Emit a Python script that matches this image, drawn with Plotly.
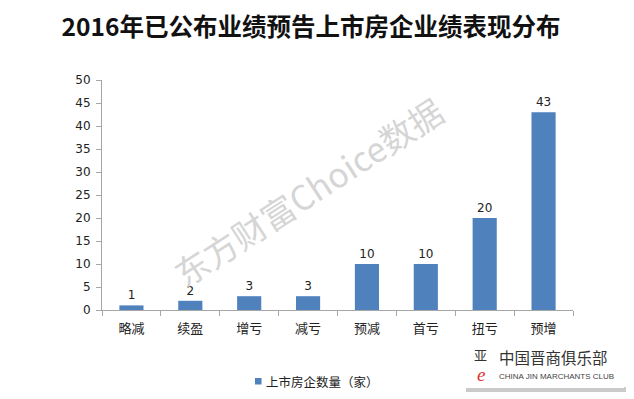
import plotly.graph_objects as go

categories = ["略减", "续盈", "增亏", "减亏", "预减", "首亏", "扭亏", "预增"]
counts = [1, 2, 3, 3, 10, 10, 20, 43]
series_name = "上市房企数量（家）"
title_text = "2016年已公布业绩预告上市房企业绩表现分布"
y_ticks = [0, 5, 10, 15, 20, 25, 30, 35, 40, 45, 50]

W, H = 634, 399
L, R, T, B = 102, 61, 80, 89
pw, ph = W - L - R, H - T - B

def px(x):
    return (x - L) / pw

def py(y):
    return (H - B - y) / ph

font_fam = "DejaVu Sans, Noto Sans CJK SC, sans-serif"
cjk = "Noto Sans CJK SC, sans-serif"

fig = go.Figure()
fig.add_trace(go.Bar(
    x=categories, y=counts, name=series_name,
    marker=dict(color="#4f81bd", line=dict(width=0)),
    width=0.41,
    text=[str(v) for v in counts], textposition="outside",
    textfont=dict(family=font_fam, size=12, color="#222"),
    cliponaxis=False, showlegend=False,
))

fig.update_layout(
    width=W, height=H,
    margin=dict(l=L, r=R, t=T, b=B, autoexpand=False),
    paper_bgcolor="white", plot_bgcolor="white",
    title=dict(text="<b>" + title_text + "</b>", x=311 / W, xanchor="center",
               y=1 - 27 / H, yanchor="middle", yref="container",
               font=dict(family=cjk, size=24.5, color="#111")),
    bargap=0.59,
    xaxis=dict(type="category", showline=True, linecolor="#a6a6a6", linewidth=1,
               ticks="outside", tickson="boundaries", ticklen=5, tickcolor="#a6a6a6",
               ticklabelstandoff=6,
               tickfont=dict(family=cjk, size=13, color="#222"), showgrid=False,
               zeroline=False),
    yaxis=dict(range=[0, 50], tickvals=y_ticks, showline=True, linecolor="#a6a6a6",
               linewidth=1, ticks="outside", ticklen=5, tickcolor="#a6a6a6",
               ticklabelstandoff=3,
               tickfont=dict(family=font_fam, size=12, color="#222"), showgrid=False,
               zeroline=False),
)

# watermark
fig.add_annotation(text="东方财富Choice数据", xref="paper", yref="paper",
                   x=px(308), y=py(191), xanchor="center", yanchor="middle",
                   showarrow=False, textangle=-33,
                   font=dict(family=cjk, size=34, color="rgba(200,200,200,0.75)"))

# legend (manual)
fig.add_shape(type="rect", xref="paper", yref="paper",
              x0=px(255), x1=px(261.5), y0=py(384.5), y1=py(378),
              fillcolor="#4f81bd", line=dict(width=0))
fig.add_annotation(text=series_name, xref="paper", yref="paper",
                   x=px(264), y=py(381), xanchor="left", yanchor="middle",
                   showarrow=False, font=dict(family=cjk, size=12.5, color="#222"))

# logo box at bottom right
fig.add_shape(type="rect", xref="paper", yref="paper",
              x0=px(466), x1=px(626), y0=py(392), y1=py(387),
              fillcolor="rgba(150,150,150,0.5)", line=dict(width=0), layer="below")
fig.add_shape(type="rect", xref="paper", yref="paper",
              x0=px(464), x1=px(624), y0=py(388), y1=py(349),
              fillcolor="white", line=dict(width=0))
fig.add_annotation(text="亚", xref="paper", yref="paper", x=px(480), y=py(354),
                   xanchor="center", yanchor="middle", showarrow=False, borderpad=0,
                   font=dict(family=cjk, size=13, color="#333"))
fig.add_annotation(text="<i>e</i>", xref="paper", yref="paper", x=px(481), y=py(374),
                   xanchor="center", yanchor="middle", showarrow=False, borderpad=0,
                   font=dict(family="Liberation Serif", size=19, color="#e03030"))
fig.add_annotation(text="中国晋商俱乐部", xref="paper", yref="paper", x=px(497), y=py(357),
                   xanchor="left", yanchor="middle", showarrow=False,
                   font=dict(family=cjk, size=15.5, color="#333"))
fig.add_annotation(text="CHINA JIN MARCHANTS CLUB", xref="paper", yref="paper", x=px(497), y=py(377),
                   xanchor="left", yanchor="middle", showarrow=False,
                   font=dict(family="Liberation Sans", size=8, color="#444"))

fig.write_html("out.html", config={"displayModeBar": False},
               post_script="document.body.style.margin='0';")
